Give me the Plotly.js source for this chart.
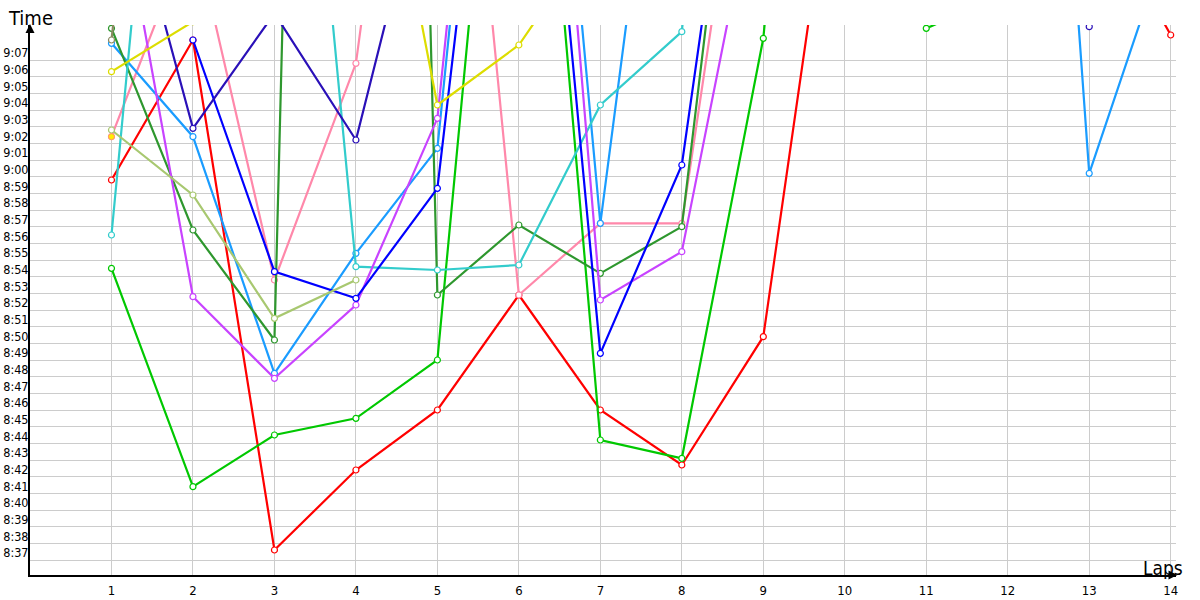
<!DOCTYPE html>
<html>
<head>
<meta charset="utf-8">
<script src="https://cdn.plot.ly/plotly-3.0.1.min.js"></script>
<style>html,body{margin:0;padding:0;background:#fff;}#chart{width:1200px;height:600px;}</style>
</head>
<body>
<div id="chart"></div>
<script>
// Lap numbers (x axis)
const laps = [1, 2, 3, 4, 5, 6, 7, 8, 9, 10, 11, 12, 13, 14];
// Y tick labels (lap time m:ss)
const yTickLabels = ["8:37","8:38","8:39","8:40","8:41","8:42","8:43","8:44","8:45","8:46","8:47","8:48","8:49","8:50","8:51","8:52","8:53","8:54","8:55","8:56","8:57","8:58","8:59","9:00","9:01","9:02","9:03","9:04","9:05","9:06","9:07"];

// Lap times in seconds (8:37 = 517 s); null = no value
const redTimes        = [539.8, 548.2, 517.6, 522.4, 526.0, 532.9, 526.0, 522.7, 530.4, 564.4, null, null, 557.3, 548.5];
const pinkTimes       = [542.4, 555.0, 533.8, 546.8, 583.0, 532.9, 537.2, 537.2, 570.0, null, null, null, null, null];
const greenTimes      = [534.5, 521.4, 524.5, 525.5, 529.0, 581.0, 524.2, 523.1, 548.3, 600.0, 548.9, 551.0, null, null];
const lightBlueTimes  = [548.0, 542.4, 528.2, 535.4, 541.7, 590.0, 537.2, 574.8, null, null, null, 608.6, 540.2, 554.7];
const darkGreenTimes  = [548.9, 536.8, 530.2, 722.0, 532.9, 537.1, 534.2, 537.0, 577.8, null, null, null, null, null];
const cyanTimes       = [536.5, 588.0, 586.0, 534.6, 534.4, 534.7, 544.3, 548.7, 598.0, null, null, null, null, null];
const purpleTimes     = [559.8, 532.8, 527.9, 532.3, 543.5, 591.0, 532.6, 535.5, 560.0, null, null, null, null, null];
const blueTimes       = [null, 548.2, 534.3, 532.7, 539.3, 581.0, 529.4, 540.7, 575.1, null, null, null, null, null];
const navyTimes       = [561.0, 542.9, 549.8, 542.2, 561.6, null, null, null, null, null, null, null, 549.0, null];
const yellowTimes     = [546.3, 549.3, null, 569.6, 544.3, 547.9, 555.0, null, null, null, null, null, null, null];
const lightGreenTimes = [542.8, 538.9, 531.5, 533.8, null, null, null, null, null, null, null, null, null, null];
const oliveTimes      = [548.2, 592.0, null, null, null, null, null, null, null, null, null, null, null, null];
const goldTimes       = [542.4, null, null, null, null, null, null, null, null, null, null, null, null, null];

const seriesList = [
  {name: "Red",         y: redTimes,        color: "#ff0000"},
  {name: "Pink",        y: pinkTimes,       color: "#ff88aa"},
  {name: "Green",       y: greenTimes,      color: "#00c800"},
  {name: "Light blue",  y: lightBlueTimes,  color: "#1a9cff"},
  {name: "Dark green",  y: darkGreenTimes,  color: "#2e972e"},
  {name: "Cyan",        y: cyanTimes,       color: "#33cccc"},
  {name: "Purple",      y: purpleTimes,     color: "#c843ff"},
  {name: "Blue",        y: blueTimes,       color: "#0000ff"},
  {name: "Navy",        y: navyTimes,       color: "#2a10b8"},
  {name: "Yellow",      y: yellowTimes,     color: "#dddd00"},
  {name: "Light green", y: lightGreenTimes, color: "#a8c870"},
  {name: "Olive",       y: oliveTimes,      color: "#8a8a60"}
];

function toSeconds(s) { const p = s.split(":"); return (+p[0]) * 60 + (+p[1]); }
const yTickVals = yTickLabels.map(toSeconds);

const traces = seriesList.map(s => ({
  type: "scatter", mode: "lines+markers", name: s.name,
  x: laps, y: s.y, connectgaps: false,
  line: {color: s.color, width: 2.2},
  marker: {symbol: "circle", size: 6, color: "#ffffff", line: {color: s.color, width: 1.2}}
}));
traces.push({
  type: "scatter", mode: "markers", name: "Gold", x: laps, y: goldTimes,
  marker: {symbol: "circle", size: 6, color: "#ffee00", line: {color: "#ff9966", width: 1}}
});

const font = "DejaVu Sans Condensed, Liberation Sans, sans-serif";
const layout = {
  width: 1200, height: 600,
  margin: {l: 30, r: 24, t: 25, b: 25, pad: 0},
  paper_bgcolor: "#ffffff", plot_bgcolor: "#ffffff",
  showlegend: false,
  font: {family: font, size: 12, color: "#000"},
  xaxis: {
    range: [0, 14.065], tickvals: laps, ticktext: laps.map(String),
    showgrid: true, gridcolor: "#cccccc", gridwidth: 1,
    zeroline: false, showline: true, linecolor: "#000", linewidth: 2,
    ticks: "", tickfont: {family: font, size: 13}, ticklabelstandoff: 2
  },
  yaxis: {
    range: [516.1, 549.1], tickvals: yTickVals, ticktext: yTickLabels,
    showgrid: true, gridcolor: "#cccccc", gridwidth: 1,
    zeroline: false, showline: true, linecolor: "#000", linewidth: 2,
    ticks: "", tickfont: {family: font, size: 12.5}, ticklabelshift: -7, ticklabelstandoff: -3
  },
  annotations: [
    {xref: "paper", yref: "paper", x: 0, y: 1.0018, ax: 0, ay: 10, axref: "pixel", ayref: "pixel",
     showarrow: true, arrowhead: 2, arrowsize: 1.2, arrowwidth: 1.5, arrowcolor: "#000", text: ""},
    {xref: "paper", yref: "paper", x: 1.0013, y: 0, ax: -10, ay: 0, axref: "pixel", ayref: "pixel",
     showarrow: true, arrowhead: 2, arrowsize: 1.2, arrowwidth: 1.5, arrowcolor: "#000", text: ""},
    {xref: "paper", yref: "paper", x: 0, y: 1.0127, xanchor: "center", yanchor: "middle",
     showarrow: false, text: "Time", font: {family: font, size: 20, color: "#000"}},
    {xref: "paper", yref: "paper", x: 0.989, y: 0.013, xanchor: "center", yanchor: "middle",
     showarrow: false, text: "Laps", font: {family: font, size: 19, color: "#000"}}
  ]
};

Plotly.newPlot("chart", traces, layout, {displayModeBar: false, staticPlot: true});
</script>
</body>
</html>
